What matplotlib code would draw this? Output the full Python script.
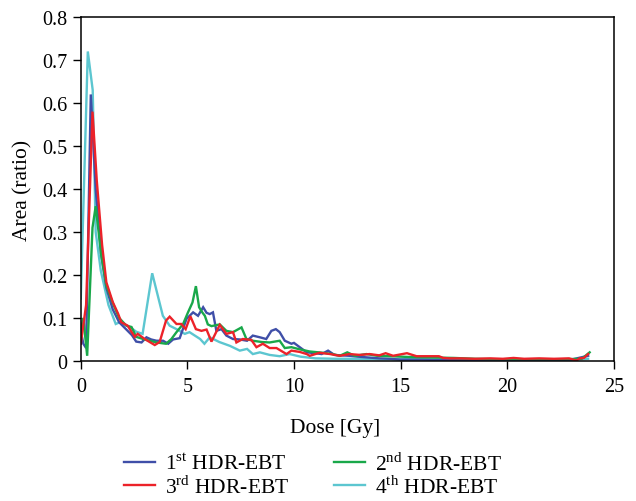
import matplotlib
matplotlib.use("Agg")
import matplotlib.pyplot as plt

labels = ["1$^{\\mathrm{st}}$ HDR-EBT", "2$^{\\mathrm{nd}}$ HDR-EBT",
          "3$^{\\mathrm{rd}}$ HDR-EBT", "4$^{\\mathrm{th}}$ HDR-EBT"]
colors = ["#3F4FA8", "#19A84A", "#EC2229", "#5CC6D0"]

x1 = [0, 0.12, 0.25, 0.47, 0.7, 0.95, 1.2, 1.5, 1.8, 2.1, 2.4, 2.6, 2.85, 3.08, 3.3, 3.55, 3.86, 4.1, 4.33, 4.64,
      4.96, 5.27, 5.5, 5.74, 5.9, 6.05, 6.2, 6.36, 6.6, 6.83, 7.14, 7.46, 7.8, 8.07, 8.4, 8.7, 8.94, 9.15, 9.33,
      9.57, 9.88, 10.0, 10.27, 10.6, 11.0, 11.3, 11.6, 11.9, 12.2, 12.6, 13.0, 13.5, 14.0, 14.5, 15.0, 16, 17, 18,
      19, 20, 21, 22, 23, 23.8]
y1 = [0.07, 0.04, 0.03, 0.62, 0.40, 0.25, 0.17, 0.12, 0.09, 0.075, 0.06, 0.045, 0.043, 0.055, 0.05, 0.047, 0.047,
      0.04, 0.05, 0.053, 0.098, 0.113, 0.105, 0.125, 0.112, 0.109, 0.113, 0.07, 0.074, 0.059, 0.051, 0.05, 0.047,
      0.059, 0.055, 0.051, 0.07, 0.074, 0.067, 0.047, 0.04, 0.042, 0.032, 0.02, 0.018, 0.016, 0.024, 0.014, 0.013,
      0.012, 0.01, 0.008, 0.006, 0.005, 0.003, 0.003, 0.002, 0.002, 0.002, 0.002, 0.002, 0.002, 0.003, 0.012]

x2 = [0, 0.12, 0.3, 0.55, 0.7, 0.95, 1.2, 1.5, 1.8, 2.14, 2.38, 2.6, 3.0, 3.55, 4.0, 4.25, 4.49, 4.8, 5.03, 5.24,
      5.4, 5.55, 5.7, 5.82, 5.96, 6.13, 6.52, 6.83, 7.14, 7.54, 7.77, 8.07, 8.5, 8.86, 9.33, 9.57, 9.88, 10.27,
      10.74, 11.36, 11.8, 12.15, 12.5, 12.85, 13.4, 13.9, 14.5, 15.5, 16.5, 17.5, 18.5, 19.5, 20.5, 21.5, 22.5,
      23.5, 23.87]
y2 = [0.07, 0.1, 0.012, 0.31, 0.36, 0.25, 0.175, 0.135, 0.1, 0.082, 0.079, 0.056, 0.05, 0.043, 0.04, 0.051, 0.067,
      0.086, 0.113, 0.136, 0.174, 0.125, 0.113, 0.105, 0.085, 0.081, 0.085, 0.07, 0.067, 0.078, 0.051, 0.047,
      0.044, 0.043, 0.047, 0.03, 0.032, 0.027, 0.022, 0.019, 0.016, 0.012, 0.02, 0.012, 0.016, 0.012, 0.011,
      0.009, 0.008, 0.007, 0.005, 0.004, 0.004, 0.004, 0.004, 0.005, 0.02]

x3 = [0, 0.25, 0.55, 0.75, 1.0, 1.2, 1.5, 1.75, 1.9, 2.2, 2.53, 2.67, 3.0, 3.2, 3.47, 3.7, 4.0, 4.17, 4.49, 4.72,
      4.92, 5.14, 5.4, 5.66, 5.9, 6.13, 6.52, 6.83, 7.14, 7.3, 7.6, 8.0, 8.24, 8.54, 8.86, 9.18, 9.65, 9.88,
      10.27, 10.6, 10.74, 11.2, 11.7, 12.15, 12.6, 13.1, 13.55, 14.0, 14.3, 14.65, 15.3, 15.75, 16.2, 16.8, 17.0,
      17.3, 17.8, 18.5, 19.2, 19.8, 20.3, 20.8, 21.5, 22.2, 22.9, 23.25, 23.4, 23.6, 23.8]
y3 = [0.04, 0.13, 0.58, 0.42, 0.27, 0.183, 0.137, 0.11, 0.09, 0.082, 0.056, 0.063, 0.051, 0.045, 0.037, 0.044,
      0.094, 0.103, 0.086, 0.086, 0.074, 0.104, 0.074, 0.07, 0.073, 0.045, 0.084, 0.063, 0.067, 0.043, 0.051,
      0.049, 0.032, 0.04, 0.03, 0.03, 0.016, 0.024, 0.021, 0.016, 0.012, 0.019, 0.016, 0.012, 0.016, 0.014,
      0.016, 0.013, 0.018, 0.012, 0.018, 0.011, 0.011, 0.011, 0.007, 0.006, 0.006, 0.005, 0.006, 0.005, 0.007,
      0.005, 0.006, 0.005, 0.006, 0.001, 0.006, 0.007, 0.016]

x4 = [0, 0.33, 0.56, 0.7, 0.94, 1.3, 1.64, 1.83, 2.3, 2.6, 2.9, 3.35, 3.85, 4.17, 4.49, 4.88, 5.1, 5.6, 5.8,
      6.05, 6.5, 7.0, 7.46, 7.8, 8.07, 8.4, 8.86, 9.33, 9.8, 10.3, 11, 12, 13, 14, 15, 16, 17, 18, 19, 20, 21,
      22, 23, 23.8]
y4 = [0.145, 0.72, 0.63, 0.30, 0.21, 0.13, 0.086, 0.09, 0.079, 0.068, 0.063, 0.204, 0.105, 0.082, 0.074, 0.063,
      0.067, 0.051, 0.04, 0.055, 0.044, 0.035, 0.024, 0.028, 0.016, 0.02, 0.014, 0.011, 0.016, 0.01, 0.006,
      0.005, 0.005, 0.004, 0.004, 0.004, 0.003, 0.003, 0.003, 0.003, 0.003, 0.003, 0.003, 0.005]

x_ticks = [0, 5, 10, 15, 20, 25]
y_ticks = [0, 0.1, 0.2, 0.3, 0.4, 0.5, 0.6, 0.7, 0.8]
y_tick_labels = ["0", "0.1", "0.2", "0.3", "0.4", "0.5", "0.6", "0.7", "0.8"]

plt.rcParams["font.family"] = ["Liberation Serif", "DejaVu Serif"]
plt.rcParams["mathtext.fontset"] = "custom"
plt.rcParams["mathtext.rm"] = "Liberation Serif"

fig = plt.figure(figsize=(6.36, 5.02), dpi=100)
ax = fig.add_axes([0.127, 0.279, 0.838, 0.685])

series = [(x1, y1), (x2, y2), (x3, y3), (x4, y4)]
order = [3, 0, 1, 2]
lines = {}
for i in order:
    xs, ys = series[i]
    ln, = ax.plot(xs, ys, color=colors[i], lw=1.7, label=labels[i], solid_joinstyle="miter")
    lines[i] = ln

ax.set_xlim(0, 25)
ax.set_ylim(0, 0.8)
ax.set_xticks(x_ticks)
ax.set_yticks(y_ticks)
ax.set_yticklabels(y_tick_labels)
ax.tick_params(direction="out", length=5.5, width=1, labelsize=14.5)
ax.tick_params(axis="x", pad=6)
ax.tick_params(axis="y", pad=4)
for s in ax.spines.values():
    s.set_linewidth(1.1)
ax.set_xlabel("Dose [Gy]", fontsize=15.5)
ax.xaxis.set_label_coords(0.478, -0.165)
ax.set_ylabel("Area (ratio)", fontsize=15.5)
ax.yaxis.set_label_coords(-0.09, 0.5)

handles = [lines[0], lines[2], lines[1], lines[3]]
leg = fig.legend(handles, [h.get_label() for h in handles], ncol=2, frameon=False,
                 loc="lower center", bbox_to_anchor=(0.492, 0.006), fontsize=15.5,
                 handlelength=1.45, handletextpad=0.45, columnspacing=2.1,
                 labelspacing=0.05, borderaxespad=0, borderpad=0)

fig.savefig("out.png", dpi=100)
